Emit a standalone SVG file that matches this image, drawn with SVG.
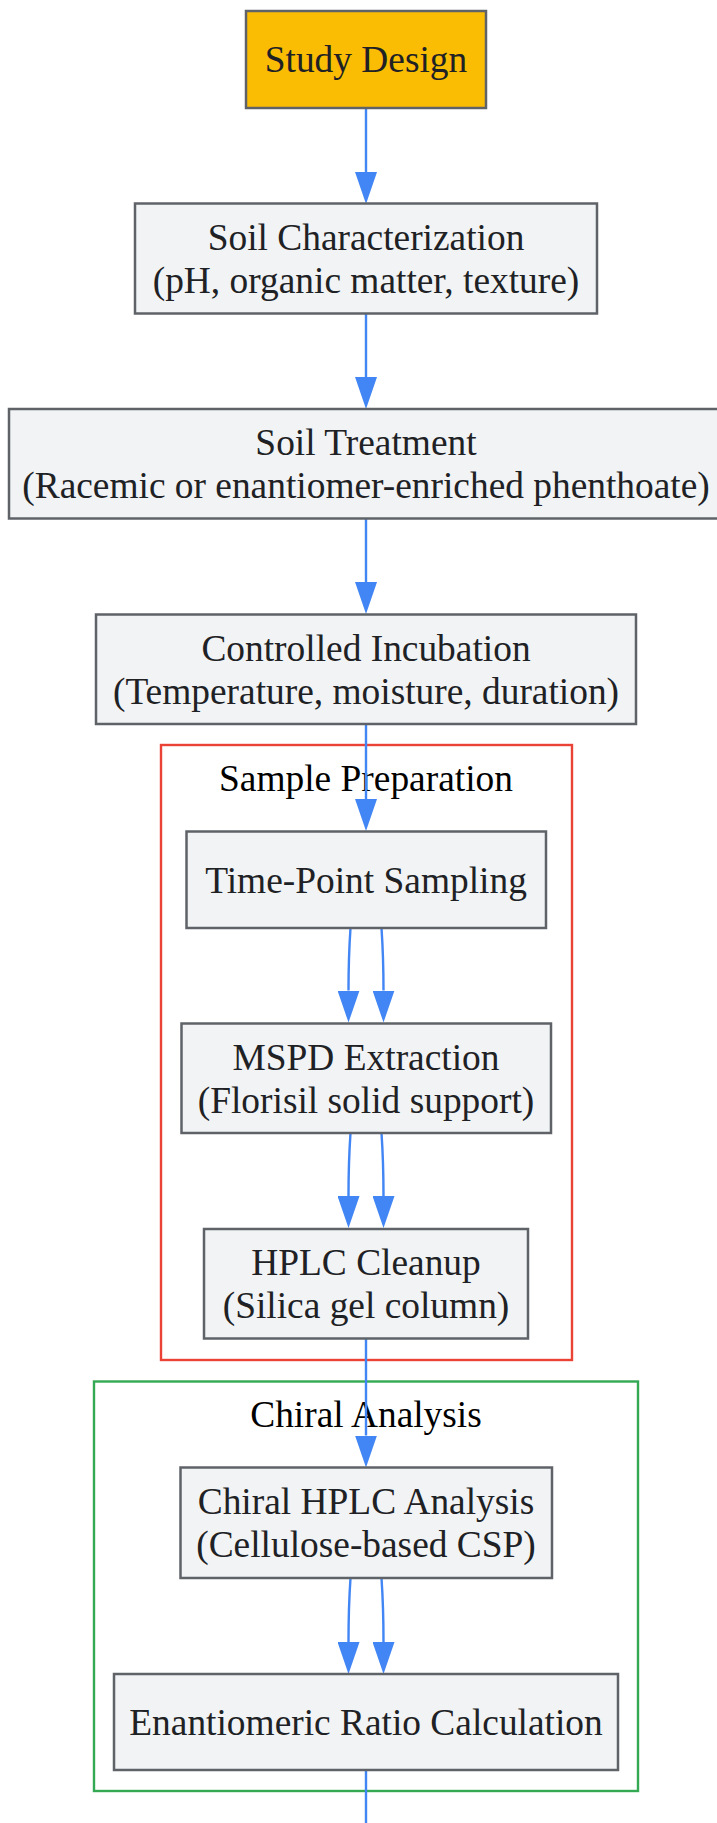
<svg xmlns="http://www.w3.org/2000/svg" width="717" height="1823" viewBox="0 0 717 1823">
<defs>
<style>
.bg{fill:#ffffff}
.node rect{fill:#F1F3F4;stroke:#5F6368;stroke-width:2.5}
.node text{font-family:"Liberation Serif","Times New Roman",serif;font-size:37.4px;fill:#202124;text-anchor:middle}
.start rect{fill:#FBBC04}
.cluster rect{fill:none;stroke-width:2.4}
.cluster text{font-family:"Liberation Serif","Times New Roman",serif;font-size:37.4px;fill:#000000;text-anchor:middle}
.edges path{fill:none;stroke:#4285F4;stroke-width:2.4}
</style>
<marker id="arrow" markerUnits="userSpaceOnUse" markerWidth="32" markerHeight="22" refX="0" refY="11" orient="auto">
<path d="M0,0 L32,11 L0,22 z" fill="#4285F4"/>
</marker>
</defs>
<rect class="bg" x="0" y="0" width="717" height="1823"/>

<g id="cluster-sample-preparation" class="cluster">
<rect x="161" y="745" width="411" height="615" stroke="#EA4335"/>
<text x="366" y="791">Sample Preparation</text>
</g>
<g id="cluster-chiral-analysis" class="cluster">
<rect x="94" y="1381.5" width="544" height="409.5" stroke="#34A853"/>
<text x="366" y="1427">Chiral Analysis</text>
</g>

<g id="edges" class="edges">
<path d="M366,108 L366,172" marker-end="url(#arrow)"/>
<path d="M366,313 L366,377" marker-end="url(#arrow)"/>
<path d="M366,518 L366,582" marker-end="url(#arrow)"/>
<path d="M366,724 L366,799" marker-end="url(#arrow)"/>
<path d="M350.5,928 C349,950 348.5,970 348.5,990.5" marker-end="url(#arrow)"/>
<path d="M381.5,928 C383,950 383.5,970 383.5,990.5" marker-end="url(#arrow)"/>
<path d="M350.5,1133 C349,1155 348.5,1175 348.5,1196" marker-end="url(#arrow)"/>
<path d="M381.5,1133 C383,1155 383.5,1175 383.5,1196" marker-end="url(#arrow)"/>
<path d="M366,1338.5 L366,1435.5" marker-end="url(#arrow)"/>
<path d="M350.5,1578 C349,1600 348.5,1620 348.5,1642" marker-end="url(#arrow)"/>
<path d="M381.5,1578 C383,1600 383.5,1620 383.5,1642" marker-end="url(#arrow)"/>
<path d="M366,1770 L366,1823"/>
</g>

<g id="node-study-design" class="node start">
<rect x="246" y="11" width="240" height="97"/>
<text x="366" y="72">Study Design</text>
</g>
<g id="node-soil-characterization" class="node">
<rect x="135" y="203.5" width="462" height="110"/>
<text x="366" y="249.5">Soil Characterization</text>
<text x="366" y="292.5">(pH, organic matter, texture)</text>
</g>
<g id="node-soil-treatment" class="node">
<rect x="9" y="409" width="714" height="109.5"/>
<text x="366" y="455">Soil Treatment</text>
<text x="366" y="498">(Racemic or enantiomer-enriched phenthoate)</text>
</g>
<g id="node-controlled-incubation" class="node">
<rect x="96" y="614.5" width="540" height="109.5"/>
<text x="366" y="660.5">Controlled Incubation</text>
<text x="366" y="703.5">(Temperature, moisture, duration)</text>
</g>
<g id="node-time-point-sampling" class="node">
<rect x="186.5" y="831.5" width="359.5" height="96.5"/>
<text x="366" y="893">Time-Point Sampling</text>
</g>
<g id="node-mspd-extraction" class="node">
<rect x="181.5" y="1023.5" width="369.5" height="109.5"/>
<text x="366" y="1069.5">MSPD Extraction</text>
<text x="366" y="1112.5">(Florisil solid support)</text>
</g>
<g id="node-hplc-cleanup" class="node">
<rect x="204" y="1229" width="324" height="109.5"/>
<text x="366" y="1275">HPLC Cleanup</text>
<text x="366" y="1318">(Silica gel column)</text>
</g>
<g id="node-chiral-hplc-analysis" class="node">
<rect x="180.5" y="1467.5" width="371.5" height="110.5"/>
<text x="366" y="1514">Chiral HPLC Analysis</text>
<text x="366" y="1557">(Cellulose-based CSP)</text>
</g>
<g id="node-enantiomeric-ratio" class="node">
<rect x="114" y="1674" width="504" height="96"/>
<text x="366" y="1735">Enantiomeric Ratio Calculation</text>
</g>
</svg>
